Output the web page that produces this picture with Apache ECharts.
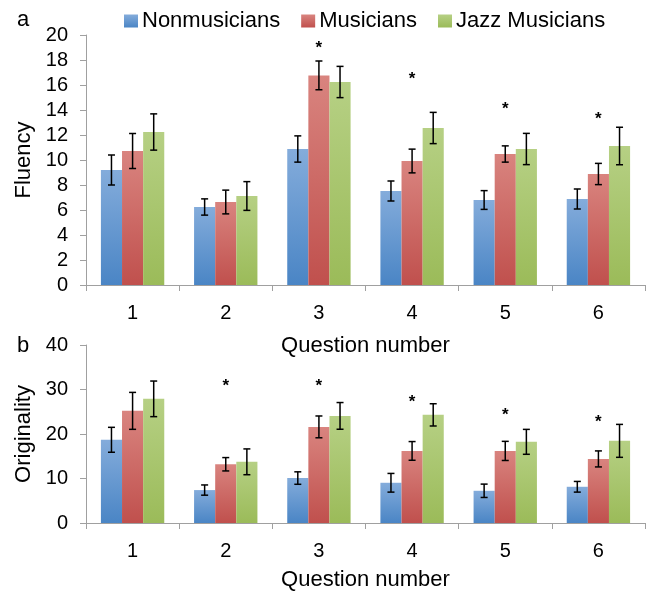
<!DOCTYPE html>
<html>
<head>
<meta charset="utf-8">
<script src="https://cdn.jsdelivr.net/npm/echarts@6/dist/echarts.min.js"></script>
<style>html,body{margin:0;padding:0;background:#fff;}#c{width:653px;height:595px;}</style>
</head>
<body>
<div id="c"></div>
<script>
var categories = ['1', '2', '3', '4', '5', '6'];
var seriesNames = ['Nonmusicians', 'Musicians', 'Jazz Musicians'];

var fluencyNon = [9.2, 6.24, 10.88, 7.52, 6.8, 6.88];
var fluencyMus = [10.72, 6.64, 16.77, 9.92, 10.48, 8.88];
var fluencyJazz = [12.24, 7.12, 16.24, 12.56, 10.88, 11.12];
var fluencyNonErr = [1.2, 0.65, 1.05, 0.8, 0.75, 0.8];
var fluencyMusErr = [1.4, 0.95, 1.15, 0.95, 0.65, 0.85];
var fluencyJazzErr = [1.45, 1.15, 1.25, 1.25, 1.25, 1.5];
var fluencyStars = [null, null, 19.2, 16.7, 14.3, 13.5];

var origNon = [18.7, 7.4, 10.1, 9.04, 7.24, 8.14];
var origMus = [25.2, 13.2, 21.6, 16.2, 16.2, 14.4];
var origJazz = [27.9, 13.75, 24.07, 24.3, 18.24, 18.46];
var origNonErr = [2.8, 1.15, 1.4, 2.1, 1.5, 1.2];
var origMusErr = [4.15, 1.5, 2.45, 2.1, 2.15, 1.8];
var origJazzErr = [4.0, 2.9, 3.0, 2.5, 2.8, 3.7];
var origStars = [null, 31.4, 31.4, 27.9, 24.8, 23.3];

var fluencyTicks = {min: 0, max: 20, interval: 2};
var origTicks = {min: 0, max: 40, interval: 10};

var FONT = "'Liberation Sans', Arial, sans-serif";
var AXIS_COLOR = '#A0A0A0';
var CAT_GAP = 0.32;

function grad(top, bottom) {
  return new echarts.graphic.LinearGradient(0, 0, 0, 1, [
    {offset: 0, color: top}, {offset: 1, color: bottom}
  ]);
}
var colors = [grad('#84ACDB', '#4A85C5'), grad('#D9847F', '#C0504D'), grad('#B6D084', '#9BBB59')];

function errData(means, errs, k) {
  return means.map(function (m, i) { return [i, m - errs[i], m + errs[i], k]; });
}

function errRender(params, api) {
  var cat = api.value(0), lo = api.value(1), hi = api.value(2), k = api.value(3);
  var pLo = api.coord([cat, lo]);
  var pHi = api.coord([cat, hi]);
  var band = api.size([1, 0])[0];
  var barW = band * (1 - CAT_GAP) / 3;
  var x = pLo[0] + (k - 1) * barW;
  var cap = 3.5;
  var st = {stroke: '#000', lineWidth: 1.5};
  return {
    type: 'group',
    children: [
      {type: 'line', shape: {x1: x, y1: pLo[1], x2: x, y2: pHi[1]}, style: st},
      {type: 'line', shape: {x1: x - cap, y1: pLo[1], x2: x + cap, y2: pLo[1]}, style: st},
      {type: 'line', shape: {x1: x - cap, y1: pHi[1], x2: x + cap, y2: pHi[1]}, style: st}
    ]
  };
}

function starRender(params, api) {
  var v = api.value(1);
  if (v == null || isNaN(v)) return null;
  var p = api.coord([api.value(0), v]);
  return {
    type: 'text',
    style: {text: '*', x: p[0], y: p[1] + 3, align: 'center', verticalAlign: 'middle',
            font: 'bold 17px ' + FONT, fill: '#000'}
  };
}

function starData(arr) {
  var out = [];
  arr.forEach(function (v, i) { if (v != null) out.push([i, v]); });
  return out;
}

function xAxis(gridIndex, nameGap) {
  return {
    type: 'category', gridIndex: gridIndex, data: categories,
    name: 'Question number', nameLocation: 'middle', nameGap: nameGap,
    nameTextStyle: {fontFamily: FONT, fontSize: 22, color: '#000'},
    axisLine: {lineStyle: {color: AXIS_COLOR, width: 1}},
    axisTick: {show: true, length: 6, lineStyle: {color: AXIS_COLOR}},
    axisLabel: {fontFamily: FONT, fontSize: 20, color: '#000', margin: 18},
    splitLine: {show: false}
  };
}

function yAxis(gridIndex, name, ticks) {
  return {
    type: 'value', gridIndex: gridIndex, min: ticks.min, max: ticks.max, interval: ticks.interval,
    name: name, nameLocation: 'middle', nameGap: 51,
    nameTextStyle: {fontFamily: FONT, fontSize: 22, color: '#000'},
    axisLine: {show: true, lineStyle: {color: AXIS_COLOR, width: 1}},
    axisTick: {show: true, length: 6, lineStyle: {color: AXIS_COLOR}},
    axisLabel: {fontFamily: FONT, fontSize: 20, color: '#000', margin: 18},
    splitLine: {show: false}
  };
}

function bar(name, data, k, gi) {
  return {
    type: 'bar', name: name, data: data, xAxisIndex: gi, yAxisIndex: gi,
    barGap: '0%', barCategoryGap: (CAT_GAP * 100) + '%',
    itemStyle: {color: colors[k]}, emphasis: {disabled: true}, animation: false
  };
}

function errSeries(means, errs, k, gi) {
  return {
    type: 'custom', xAxisIndex: gi, yAxisIndex: gi, renderItem: errRender,
    data: errData(means, errs, k), encode: {x: 0, y: [1, 2]}, z: 5, animation: false, silent: true
  };
}

function starSeries(arr, gi) {
  return {
    type: 'custom', xAxisIndex: gi, yAxisIndex: gi, renderItem: starRender,
    data: starData(arr), encode: {x: 0, y: 1}, z: 6, animation: false, silent: true
  };
}

var chart = echarts.init(document.getElementById('c'), null, {renderer: 'canvas'});
chart.setOption({
  animation: false,
  backgroundColor: '#fff',
  textStyle: {fontFamily: FONT},
  legend: {
    data: seriesNames, left: 124, top: 10, padding: 0, icon: 'rect', itemWidth: 14, itemHeight: 13, itemGap: 21,
    textStyle: {fontFamily: FONT, fontSize: 22, color: '#000', padding: [0, 0, 0, -1]}
  },
  graphic: [
    {type: 'text', left: 17, top: 9, style: {text: 'a', font: '22px ' + FONT, fill: '#000'}},
    {type: 'text', left: 17, top: 335, style: {text: 'b', font: '22px ' + FONT, fill: '#000'}}
  ],
  grid: [
    {left: 86, right: 8, top: 35, height: 250},
    {left: 86, right: 8, top: 345, height: 178}
  ],
  xAxis: [xAxis(0, 50), xAxis(1, 46)],
  yAxis: [yAxis(0, 'Fluency', fluencyTicks), yAxis(1, 'Originality', origTicks)],
  series: [
    bar(seriesNames[0], fluencyNon, 0, 0),
    bar(seriesNames[1], fluencyMus, 1, 0),
    bar(seriesNames[2], fluencyJazz, 2, 0),
    bar(seriesNames[0], origNon, 0, 1),
    bar(seriesNames[1], origMus, 1, 1),
    bar(seriesNames[2], origJazz, 2, 1),
    errSeries(fluencyNon, fluencyNonErr, 0, 0),
    errSeries(fluencyMus, fluencyMusErr, 1, 0),
    errSeries(fluencyJazz, fluencyJazzErr, 2, 0),
    errSeries(origNon, origNonErr, 0, 1),
    errSeries(origMus, origMusErr, 1, 1),
    errSeries(origJazz, origJazzErr, 2, 1),
    starSeries(fluencyStars, 0),
    starSeries(origStars, 1)
  ]
});
</script>
</body>
</html>
